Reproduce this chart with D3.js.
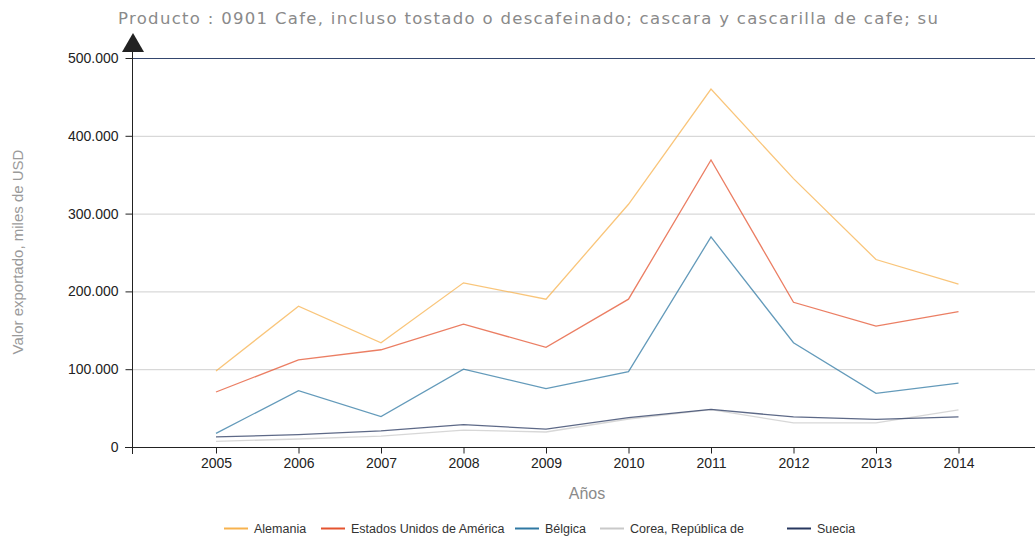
<!DOCTYPE html>
<html><head><meta charset="utf-8">
<script src="https://cdn.jsdelivr.net/npm/d3@7"></script>
<style>body{margin:0;background:#fff}svg{display:block}
.ttl{font-family:"DejaVu Sans",Verdana,sans-serif}
.ar{font-family:"Liberation Sans",Arial,sans-serif}</style>
</head><body>
<svg id="c" width="1035" height="536"></svg>
<script>
const years = [2005,2006,2007,2008,2009,2010,2011,2012,2013,2014];
const alemania = [97700,181000,134000,211000,190000,312000,460000,345000,241000,209500];
const eeuu = [70700,112000,125000,158000,128000,190000,369000,186000,155500,174000];
const belgica = [17600,72400,39000,100000,75000,96800,270000,134000,69000,82000];
const corea = [7300,10300,14000,21800,19300,36000,48000,31000,31000,47600];
const suecia = [12900,15800,20600,28700,23000,37700,48400,38600,35600,38600];
const seriesNames = ["Alemania","Estados Unidos de América","Bélgica","Corea, República de","Suecia"];
const seriesColors = ["#f7b24e","#e4532f","#2f78a3","#c9c9c9","#27375f"];
const yTicks = [0,100000,200000,300000,400000,500000];
const series = [alemania,eeuu,belgica,corea,suecia];

const svg = d3.select("#c");
const x = d3.scaleLinear().domain([2004,2015]).range([133.5,1041]);
const y = d3.scaleLinear().domain([0,500000]).range([447,58]);
const fmt = v => d3.format(",")(v).replace(/,/g,".");

// title
svg.append("text").attr("class","ttl").attr("x",118).attr("y",24)
  .attr("font-size",16.5).attr("fill","#8a8a8a")
  .attr("textLength",820).attr("lengthAdjust","spacing")
  .text("Producto : 0901 Cafe, incluso tostado o descafeinado; cascara y cascarilla de cafe; su");

// gridlines
svg.append("g").selectAll("line").data(yTicks.filter(d=>d>0)).join("line")
  .attr("x1",132).attr("x2",1035).attr("y1",d=>y(d)+0.5).attr("y2",d=>y(d)+0.5)
  .attr("stroke",d=>d===500000?"#34466e":"#cfcfcf").attr("stroke-width",1);

// y axis
const yAx = svg.append("g").attr("transform","translate(132.5,0)")
  .call(d3.axisLeft(y).tickValues(yTicks).tickFormat(fmt).tickSize(7).tickPadding(7));
yAx.select(".domain").remove();
yAx.selectAll("line").attr("stroke","#222");
yAx.selectAll("text").attr("class","ar").attr("font-family",null).attr("font-size",14).attr("fill","#222");
svg.append("line").attr("x1",132.5).attr("x2",132.5).attr("y1",46).attr("y2",454).attr("stroke","#222");
svg.append("path").attr("d","M133,33 L144,52 L122,52 Z").attr("fill","#222");

// x axis
const xAx = svg.append("g").attr("transform","translate(0,447.5)")
  .call(d3.axisBottom(x).tickValues(years).tickFormat(d3.format("d")).tickSize(6).tickPadding(5));
xAx.select(".domain").remove();
xAx.selectAll("line").attr("stroke","#222");
xAx.selectAll("text").attr("class","ar").attr("font-family",null).attr("font-size",14).attr("fill","#222");
svg.append("line").attr("x1",125).attr("x2",1035).attr("y1",447.5).attr("y2",447.5).attr("stroke","#222");

// lines (draw back to front)
const line = d3.line().x((d,i)=>x(years[i])).y(d=>y(d));
const order = [3,4,2,1,0];
svg.append("g").selectAll("path").data(order).join("path")
  .attr("d",i=>line(series[i])).attr("fill","none")
  .attr("stroke",i=>seriesColors[i]).attr("stroke-opacity",0.75).attr("stroke-width",1.3);

// axis labels
svg.append("text").attr("class","ar").attr("x",587).attr("y",499).attr("text-anchor","middle")
  .attr("font-size",16).attr("fill","#8a8a8a").text("Años");
svg.append("text").attr("class","ar").attr("transform","translate(23,252) rotate(-90)").attr("text-anchor","middle")
  .attr("font-size",15).attr("fill","#9a9a9a")
  .text("Valor exportado, miles de USD");

// legend
const legX = [224,321,515,600,787];
const lg = svg.append("g").selectAll("g").data(seriesNames).join("g")
  .attr("transform",(d,i)=>`translate(${legX[i]},528)`);
lg.append("line").attr("x1",0).attr("x2",24).attr("y1",0.5).attr("y2",0.5)
  .attr("stroke",(d,i)=>seriesColors[i]).attr("stroke-width",2);
lg.append("text").attr("class","ar").attr("x",30).attr("y",5)
  .attr("font-size",12.5).attr("fill","#333").text(d=>d);
</script>
</body></html>
